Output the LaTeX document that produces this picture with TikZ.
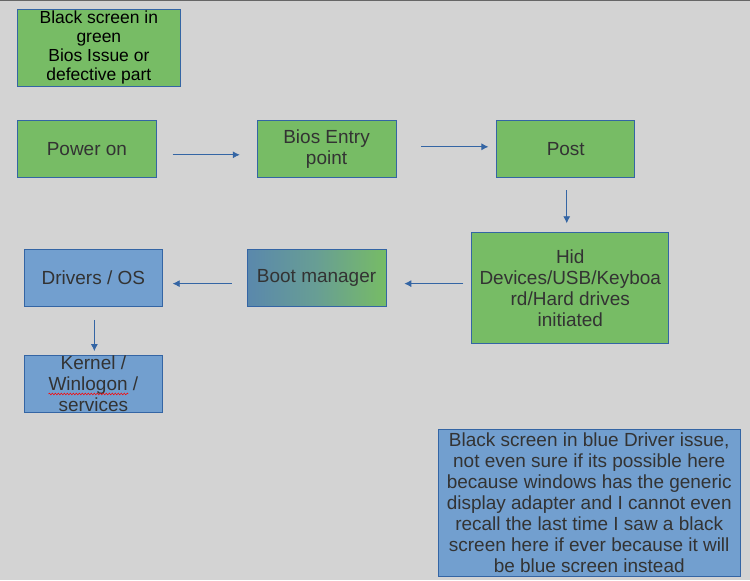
\documentclass[tikz,border=0pt]{standalone}
\usepackage{fontspec}
\setmainfont{Liberation Sans}
\usetikzlibrary{decorations.pathmorphing,arrows.meta}
\definecolor{bgc}{HTML}{D3D3D3}
\definecolor{gfill}{HTML}{77BC65}
\definecolor{bfill}{HTML}{729FCF}
\definecolor{edgec}{HTML}{3465A4}
\definecolor{txt}{HTML}{333333}
\definecolor{gradl}{HTML}{5A88AC}
\definecolor{gradm}{HTML}{689E94}
\tikzset{
  boxg/.style={draw=edgec, line width=0.8pt, fill=gfill, inner sep=0pt, align=center, text=txt, font=\fontsize{19}{21}\selectfont},
  boxb/.style={boxg, fill=bfill},
  arr/.style={draw=edgec, line width=0.8pt, -{Latex[length=7pt,width=7pt]}},
}
\begin{document}
\begin{tikzpicture}[x=1pt,y=-1pt]
\fill[bgc] (0,0) rectangle (750,581);
\draw[gray!80!black, line width=1pt] (0,0.5) -- (750,0.5);
\useasboundingbox (0,0) rectangle (750,581);

\node[boxg, minimum width=163pt, minimum height=78pt, text=black, font=\fontsize{17.5}{19}\selectfont] (top) at (98.5,48) {Black screen in\\green\\Bios Issue or\\defective part};
\node[boxg, minimum width=139pt, minimum height=57pt] (pw) at (86.5,149.5) {Power on};
\node[boxg, minimum width=139pt, minimum height=57pt] (bios) at (326.5,149.5) {Bios Entry\\point};
\node[boxg, minimum width=138pt, minimum height=57pt] (post) at (566,149.5) {Post};
\node[boxg, minimum width=197pt, minimum height=111pt] (hid) at (570.5,288.5) {Hid\\Devices/USB/Keyboa\\rd/Hard drives\\initiated};
\node[boxg, left color=gradl, right color=gfill, middle color=gradm, minimum width=139pt, minimum height=57pt] (boot) at (316.5,278.5) {Boot manager};
\node[boxb, minimum width=138pt, minimum height=57pt] (drv) at (93,278.5) {Drivers / OS};
\node[boxb, minimum width=138pt, minimum height=57pt] (ker) at (93,384.5) {Kernel /\\Winlogon /\\services};
\node[boxb, minimum width=303pt, minimum height=147pt] (note) at (589.5,503.5) {Black screen in blue Driver issue,\\not even sure if its possible here\\because windows has the generic\\display adapter and I cannot even\\recall the last time I saw a black\\screen here if ever because it will\\be blue screen instead};

\draw[red, line width=0.5pt, decorate, decoration={snake, amplitude=0.9pt, segment length=3pt}] (48,394.5) -- (128,394.5);

\draw[arr, shorten <=16pt, shorten >=17pt] ([yshift=-5.5pt]pw.east) -- ([yshift=-5.5pt]pw.east -| bios.west);
\draw[arr, shorten <=25pt, shorten >=8pt] ([yshift=2.5pt]bios.east) -- ([yshift=2.5pt]bios.east -| post.west);
\draw[arr, shorten <=12pt, shorten >=9pt] ([xshift=1pt]post.south) -- ([xshift=1pt]post.south |- hid.north);
\coordinate (r1) at (0,284);
\draw[arr, shorten <=8pt, shorten >=18pt] (hid.west |- r1) -- (boot.east |- r1);
\draw[arr, shorten <=15pt, shorten >=10pt] (boot.west |- r1) -- (drv.east |- r1);
\draw[arr, shorten <=13pt, shorten >=4pt] ([xshift=1pt]drv.south) -- ([xshift=1pt]drv.south |- ker.north);
\end{tikzpicture}
\end{document}
